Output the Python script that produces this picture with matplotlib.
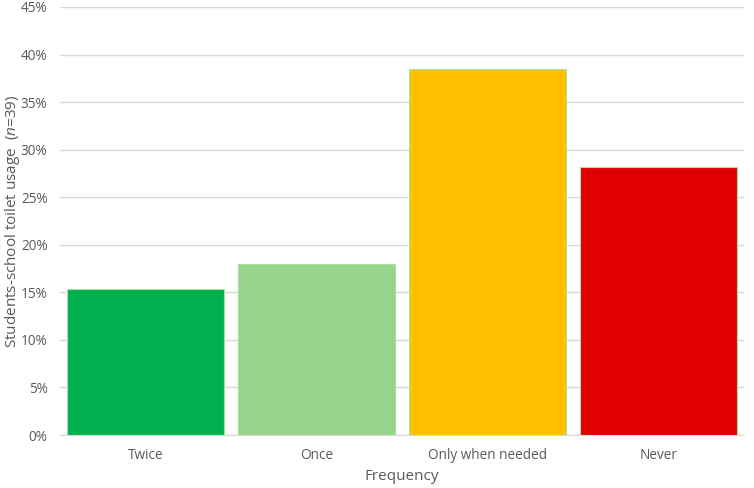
import matplotlib
matplotlib.use("Agg")
import matplotlib.pyplot as plt
from matplotlib.ticker import PercentFormatter

plt.rcParams['font.family'] = ['Open Sans', 'DejaVu Sans']
plt.rcParams['mathtext.fontset'] = 'custom'
plt.rcParams['mathtext.it'] = 'Open Sans:italic'
plt.rcParams['mathtext.rm'] = 'Open Sans'

# data
categories = ['Twice', 'Once', 'Only when needed', 'Never']
counts = [6, 7, 15, 11]
n_total = 39
shares = [c / n_total * 100 for c in counts]
colors = ['#00b04f', '#98d38c', '#ffc000', '#e00000']

fig = plt.figure(figsize=(7.54, 4.88), dpi=100)
ax = fig.add_axes([0.0796, 0.1086, 0.9074, 0.8771])

ax.bar(range(len(categories)), shares, width=0.92, color=colors,
       edgecolor='#a9dfa0', linewidth=0.8, zorder=3)

ax.set_xlim(-0.5, len(categories) - 0.5)
ax.set_ylim(0, 45)
ax.set_yticks(range(0, 46, 5))
ax.yaxis.set_major_formatter(PercentFormatter(decimals=0))
ax.set_xticks(range(len(categories)))
ax.set_xticklabels(categories)

ax.grid(axis='y', color='#d9d9d9', linewidth=1, zorder=0)
for s in ['top', 'right', 'left']:
    ax.spines[s].set_visible(False)
ax.spines['bottom'].set_color('#d9d9d9')
ax.tick_params(axis='both', length=0, colors='#595959', labelsize=9.8)
ax.tick_params(axis='x', pad=9)
ax.tick_params(axis='y', pad=9)

ax.set_xlabel('Frequency', fontsize=11, color='#595959', labelpad=5)
ax.set_ylabel('Students-school toilet usage  ($n$=39)', fontsize=11,
              color='#595959', va='center')
ax.yaxis.set_label_coords(-0.07, 0.5)

fig.savefig('out.png', dpi=100)
